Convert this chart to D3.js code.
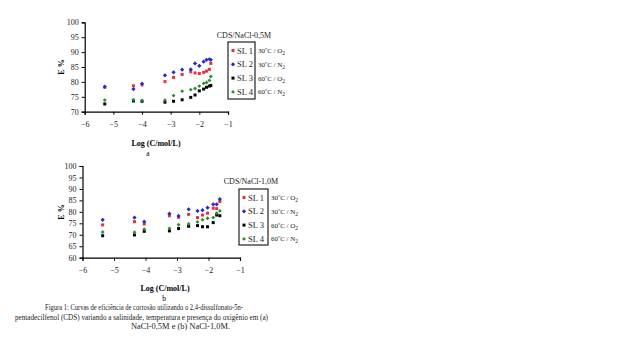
<!DOCTYPE html>
<html><head><meta charset="utf-8">
<script src="https://cdn.jsdelivr.net/npm/d3@7"></script>
<style>body{margin:0;background:#fff}svg{display:block}text{font-family:"Liberation Serif","Times New Roman",serif}</style>
</head><body>
<svg id="c" width="640" height="354"></svg>
<script>
// ---- data ----
const seriesNames = ["SL 1", "SL 2", "SL 3", "SL 4"];
const seriesConds = [["30ºC / O", "2"], ["30ºC / N", "2"], ["60ºC / O", "2"], ["60ºC / N", "2"]];
const xTicks = [-6, -5, -4, -3, -2, -1];
const yTicksA = [70, 75, 80, 85, 90, 95, 100];
const yTicksB = [60, 65, 70, 75, 80, 85, 90, 95, 100];

// (a) NaCl-0,5M
const logCA = [-5.3, -4.3, -4.0, -3.2, -2.9, -2.6, -2.3, -2.15, -2.0, -1.85, -1.75, -1.65, -1.6];
const a_SL1 = [78.2, 78.7, 79.0, 80.1, 81.5, 82.5, 83.4, 83.0, 82.8, 83.2, 83.6, 84.2, 86.2];
const a_SL2 = [78.4, 77.6, 79.4, 82.2, 83.2, 84.1, 84.2, 86.2, 85.4, 86.8, 87.4, 87.6, 87.4];
const a_SL3 = [72.6, 73.6, 73.5, 73.2, 73.5, 74.0, 74.8, 75.6, 77.0, 77.6, 78.2, 78.6, 78.8];
const a_SL4 = [73.9, 74.0, 73.8, 73.9, 75.4, 76.9, 77.4, 77.8, 78.6, 79.5, 79.8, 80.5, 81.8];

// (b) NaCl-1,0M
const logCB = [-5.36, -4.35, -4.04, -3.24, -2.95, -2.63, -2.35, -2.19, -2.03, -1.85, -1.74, -1.64];
const b_SL1 = [74.3, 75.7, 74.7, 78.3, 77.6, 78.9, 77.5, 78.6, 79.4, 81.6, 81.4, 84.5];
const b_SL2 = [76.5, 77.5, 75.7, 79.2, 78.2, 81.1, 80.4, 80.7, 81.8, 83.3, 83.3, 85.6];
const b_SL3 = [69.6, 69.9, 71.5, 71.7, 72.7, 73.7, 74.0, 73.5, 73.5, 75.3, 78.6, 78.3];
const b_SL4 = [71.2, 71.1, 72.4, 72.8, 74.4, 74.7, 75.6, 76.5, 77.2, 77.5, 79.4, 80.4];

const captionLines = [
  "Figura 1: Curvas de eficiência de corrosão utilizando o 2,4-dissulfonato-5n-",
  "pentadecilfenol (CDS) variando a salinidade, temperatura e presença do oxigênio em (a)",
  "NaCl-0,5M e (b) NaCl-1,0M."
];

// ---- drawing ----
const colors = ["#e8313b", "#2a2ac8", "#000000", "#2e8b2e"];
const rot = [0, 45, 0, 45];
const sizes = [9, 9, 9, 7.5];
const svg = d3.select("#c");

function chart(cfg) {
  const x = d3.scaleLinear().domain([-6, -1]).range(cfg.xr);
  const y = d3.scaleLinear().domain(cfg.yd).range(cfg.yr);
  const g = svg.append("g");
  const xa = g.append("g").attr("transform", `translate(0,${cfg.yr[0]})`)
    .call(d3.axisBottom(x).tickValues(xTicks).tickSize(3).tickPadding(7).tickFormat(d3.format("d")));
  const ya = g.append("g").attr("transform", `translate(${cfg.xr[0]},0)`)
    .call(d3.axisLeft(y).tickValues(cfg.yt).tickSize(3).tickPadding(3));
  [xa, ya].forEach(a => {
    a.attr("font-family", null);
    a.select(".domain").attr("stroke", "#000").attr("stroke-width", 1.2);
    a.selectAll(".tick line").attr("stroke", "#000");
    a.selectAll("text").attr("font-size", 8).attr("fill", "#222");
  });
  cfg.series.forEach((s, i) => {
    g.append("g").selectAll("path").data(s).join("path")
      .attr("transform", (d, j) => `translate(${x(cfg.xs[j])},${y(d)}) rotate(${rot[i]})`)
      .attr("d", d3.symbol().type(d3.symbolSquare).size(sizes[i]))
      .attr("fill", colors[i]);
  });
  // axis titles
  g.append("text").attr("x", cfg.xt[0]).attr("y", cfg.xt[1]).attr("text-anchor", "middle")
    .attr("font-size", 8).attr("font-weight", "bold").text("Log (C/mol/L)");
  g.append("text").attr("x", cfg.lt[0]).attr("y", cfg.lt[1]).attr("text-anchor", "middle")
    .attr("font-size", 7.5).text(cfg.letter);
  g.append("text").attr("transform", `translate(${cfg.yl[0]},${cfg.yl[1]}) rotate(-90)`)
    .attr("text-anchor", "middle").attr("font-size", 8).attr("font-weight", "bold").text("E %");
  // title
  g.append("text").attr("x", cfg.title[0]).attr("y", cfg.title[1]).attr("text-anchor", "middle")
    .attr("font-size", 8).attr("fill", "#222").text(cfg.titleText);
  // legend
  const L = cfg.leg;
  g.append("rect").attr("x", L.x).attr("y", L.y).attr("width", L.w).attr("height", L.h)
    .attr("fill", "none").attr("stroke", "#222").attr("stroke-width", 1.2);
  seriesNames.forEach((n, i) => {
    const yy = L.y + L.first + i * L.step;
    g.append("path").attr("transform", `translate(${L.x + 5},${yy}) rotate(${rot[i]})`)
      .attr("d", d3.symbol().type(d3.symbolSquare).size(sizes[i])).attr("fill", colors[i]);
    g.append("text").attr("x", L.x + 9).attr("y", yy + 3).attr("font-size", 8.5).attr("fill", "#222").text(n);
    const t = g.append("text").attr("x", L.x + L.w + 3).attr("y", yy + 2.5).attr("font-size", 7).attr("fill", "#222");
    t.append("tspan").text(seriesConds[i][0]);
    t.append("tspan").attr("font-size", 5.5).attr("dy", 2).text(seriesConds[i][1]);
  });
}

chart({
  xr: [84.7, 228], yd: [70, 100], yr: [111.7, 22.3], yt: yTicksA,
  xs: logCA, series: [a_SL1, a_SL2, a_SL3, a_SL4],
  xt: [156, 146], lt: [148, 156], letter: "a", yl: [64, 67],
  title: [244, 38], titleText: "CDS/NaCl-0,5M",
  leg: { x: 228, y: 42, w: 27, h: 57, first: 8.5, step: 13.8 }
});
chart({
  xr: [82.5, 240], yd: [60, 100], yr: [257.7, 166], yt: yTicksB,
  xs: logCB, series: [b_SL1, b_SL2, b_SL3, b_SL4],
  xt: [165, 291], lt: [164, 300.5], letter: "b", yl: [64, 212],
  title: [251, 184], titleText: "CDS/NaCl-1,0M",
  leg: { x: 239, y: 189, w: 29, h: 56, first: 8.5, step: 13.8 }
});

// caption
const cap = [[45, 310, 198], [15, 319.5, 253], [131, 329, 99]];
captionLines.forEach((t, i) => {
  svg.append("text").attr("x", cap[i][0]).attr("y", cap[i][1]).attr("font-size", 8)
    .attr("fill", "#222").attr("textLength", cap[i][2]).attr("lengthAdjust", "spacingAndGlyphs").text(t);
});
</script>
</body></html>
